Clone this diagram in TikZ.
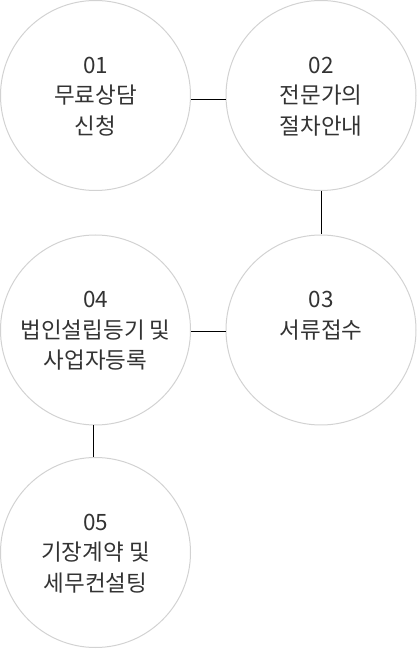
\documentclass[tikz,border=0pt]{standalone}
\usepackage{fontspec}
\setmainfont{Noto Sans CJK KR}
\usepackage{tikz}
\definecolor{ringgray}{HTML}{D2D2D2}
\definecolor{txtgray}{HTML}{333333}
\tikzset{
  stagecircle/.style={circle,draw=ringgray,line width=1pt,minimum size=190pt,inner sep=0pt},
  stagetext/.style={anchor=north,align=center,text=txtgray,font=\fontsize{22.5}{30.5}\selectfont,inner sep=0pt},
  joinline/.style={draw=black,line width=1pt}
}
\begin{document}
\begin{tikzpicture}[x=1pt,y=1pt]
\useasboundingbox (0,0) rectangle (417,649);

% Circles
\node[stagecircle] (c1) at (95.5,553.5) {};
\node[stagecircle] (c2) at (321,553.5) {};
\node[stagecircle] (c3) at (321,319) {};
\node[stagecircle] (c4) at (95.5,319) {};
\node[stagecircle] (c5) at (95.5,96.5) {};

% Texts
\node[stagetext] (t1) at ([yshift=39pt]c1.center) {01\\무료상담\\신청};
\node[stagetext] (t2) at ([yshift=39pt]c2.center) {02\\전문가의\\절차안내};
\node[stagetext] (t3) at ([yshift=39pt]c3.center) {03\\서류접수};
\node[stagetext] (t4) at ([yshift=39pt]c4.center) {04\\법인설립등기 및\\사업자등록};
\node[stagetext] (t5) at ([yshift=39pt]c5.center) {05\\기장계약 및\\세무컨설팅};

% Connectors
\draw[joinline] ([yshift=-4.5pt]c1.east) -- ([yshift=-4.5pt]c2.west);
\draw[joinline] (c2.south) -- (c3.north);
\draw[joinline] ([yshift=-2pt]c3.west) -- ([yshift=-2pt]c4.east);
\draw[joinline] ([xshift=-2pt]c4.south) -- ([xshift=-2pt]c5.north);
\end{tikzpicture}
\end{document}
